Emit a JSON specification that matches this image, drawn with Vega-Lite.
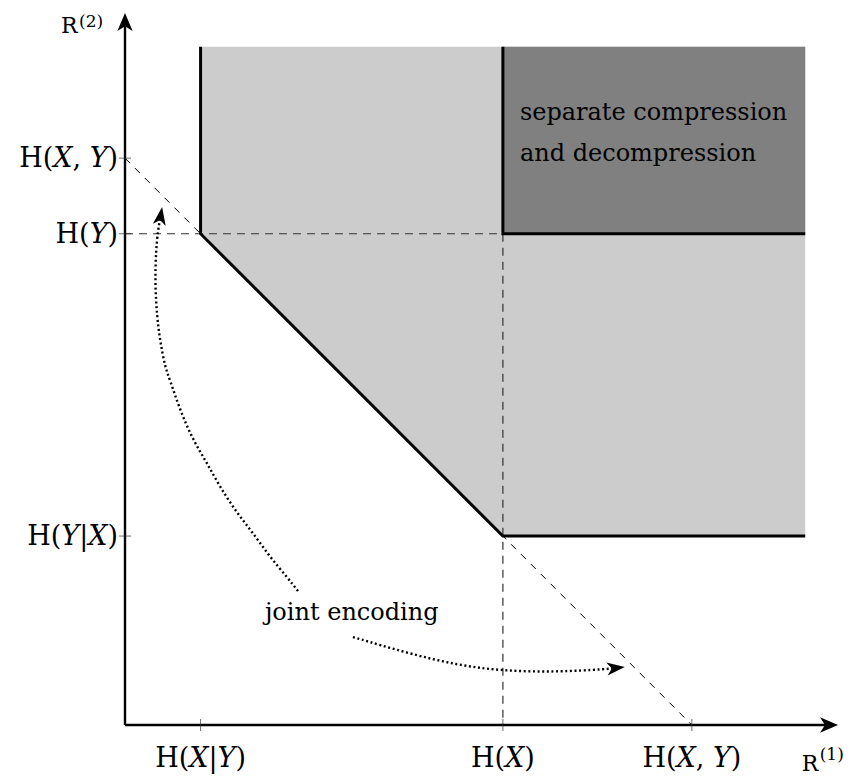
{
  "$schema": "https://vega.github.io/schema/vega-lite/v6.json",
  "width": 718,
  "height": 718,
  "autosize": {"type": "none"},
  "padding": {"left": 125, "top": 7, "right": 8, "bottom": 52},
  "background": "white",
  "config": {"view": {"stroke": null}},
  "datasets": {
    "light": [
      {"x": 2, "lo": 13, "hi": 17.95},
      {"x": 10, "lo": 5, "hi": 17.95},
      {"x": 18, "lo": 5, "hi": 17.95}
    ],
    "dark": [{"x": 10, "x2": 18, "y": 13, "y2": 17.95}],
    "dashed": [
      {"x": 0, "y": 13, "x2": 10, "y2": 13, "kind": "h"},
      {"x": 10, "y": 13, "x2": 10, "y2": 0, "kind": "v"},
      {"x": 0, "y": 15, "x2": 15, "y2": 0, "kind": "d"}
    ],
    "bounds": [
      {"path": "a", "o": 1, "x": 2, "y": 17.95},
      {"path": "a", "o": 2, "x": 2, "y": 13},
      {"path": "a", "o": 3, "x": 10, "y": 5},
      {"path": "a", "o": 4, "x": 18, "y": 5},
      {"path": "b", "o": 1, "x": 10, "y": 17.95},
      {"path": "b", "o": 2, "x": 10, "y": 13},
      {"path": "b", "o": 3, "x": 18, "y": 13}
    ],
    "axes": [
      {"x": 0, "y": 0, "x2": 18.7, "y2": 0},
      {"x": 0, "y": 0, "x2": 0, "y2": 18.7}
    ],
    "xticks": [
      {"x": 2, "y": 0, "label": "H(𝑋|𝑌)"},
      {"x": 10, "y": 0, "label": "H(𝑋)"},
      {"x": 15, "y": 0, "label": "H(𝑋, 𝑌)"}
    ],
    "yticks": [
      {"x": 0, "y": 5, "label": "H(𝑌|𝑋)"},
      {"x": 0, "y": 13, "label": "H(𝑌)"},
      {"x": 0, "y": 15, "label": "H(𝑋, 𝑌)"}
    ],
    "curves": [
      {"c": "1", "o": 1, "x": 4.578, "y": 3.546},
      {"c": "1", "o": 2, "x": 4.287, "y": 3.916},
      {"c": "1", "o": 3, "x": 3.837, "y": 4.446},
      {"c": "1", "o": 4, "x": 3.387, "y": 5.081},
      {"c": "1", "o": 5, "x": 2.964, "y": 5.61},
      {"c": "1", "o": 6, "x": 2.514, "y": 6.298},
      {"c": "1", "o": 7, "x": 2.17, "y": 6.933},
      {"c": "1", "o": 8, "x": 1.799, "y": 7.542},
      {"c": "1", "o": 9, "x": 1.455, "y": 8.336},
      {"c": "1", "o": 10, "x": 1.191, "y": 9.129},
      {"c": "1", "o": 11, "x": 1.058, "y": 9.473},
      {"c": "1", "o": 12, "x": 0.926, "y": 10.188},
      {"c": "1", "o": 13, "x": 0.847, "y": 10.797},
      {"c": "1", "o": 14, "x": 0.794, "y": 11.696},
      {"c": "1", "o": 15, "x": 0.82, "y": 12.569},
      {"c": "1", "o": 16, "x": 0.873, "y": 13.099},
      {"c": "1", "o": 17, "x": 0.926, "y": 13.364},
      {"c": "1", "o": 18, "x": 0.966, "y": 13.575},
      {"c": "2", "o": 1, "x": 6.032, "y": 2.328},
      {"c": "2", "o": 2, "x": 7.46, "y": 1.905},
      {"c": "2", "o": 3, "x": 8.783, "y": 1.587},
      {"c": "2", "o": 4, "x": 10.0, "y": 1.429},
      {"c": "2", "o": 5, "x": 11.429, "y": 1.402},
      {"c": "2", "o": 6, "x": 12.751, "y": 1.481},
      {"c": "2", "o": 7, "x": 13.1, "y": 1.51}
    ],
    "heads": [
      {"h": "c1", "x": 0.945, "y": 13.47},
      {"h": "c2", "x": 12.99, "y": 1.508},
      {"h": "ax", "x": 18.63, "y": 0},
      {"h": "ay", "x": 0, "y": 18.6}
    ],
    "notes": [
      {"n": "sep", "x": 10.45, "y": 16.0, "text": "separate compression\nand decompression"},
      {"n": "joint", "x": 6.0, "y": 2.78, "text": "joint encoding"},
      {"n": "r2", "x": 0, "y": 18.78, "main": "R", "sup": "(2)"},
      {"n": "r1", "x": 18.78, "y": 0, "main": "R", "sup": "(1)"}
    ]
  },
  "encoding": {
    "x": {"field": "x", "type": "quantitative", "scale": {"domain": [0, 19], "nice": false, "zero": false}, "axis": null},
    "y": {"field": "y", "type": "quantitative", "scale": {"domain": [0, 19], "nice": false, "zero": false}, "axis": null}
  },
  "layer": [
    {
      "data": {"name": "light"},
      "mark": {"type": "area", "color": "#cccccc", "opacity": 1},
      "encoding": {
        "y": {"field": "lo", "type": "quantitative"},
        "y2": {"field": "hi"}
      }
    },
    {
      "data": {"name": "dark"},
      "mark": {"type": "rect", "color": "#808080"},
      "encoding": {
        "x2": {"field": "x2"},
        "y2": {"field": "y2"}
      }
    },
    {
      "data": {"name": "dashed"},
      "transform": [{"filter": "datum.kind != 'd'"}],
      "mark": {"type": "rule", "color": "#333333", "strokeWidth": 1.2, "strokeDash": [8, 6]},
      "encoding": {"x2": {"field": "x2"}, "y2": {"field": "y2"}}
    },
    {
      "data": {"name": "dashed"},
      "transform": [{"filter": "datum.kind == 'd'"}],
      "mark": {"type": "rule", "color": "#000000", "strokeWidth": 1, "strokeDash": [7, 7]},
      "encoding": {"x2": {"field": "x2"}, "y2": {"field": "y2"}}
    },
    {
      "data": {"name": "bounds"},
      "mark": {"type": "line", "color": "black", "strokeWidth": 3, "strokeJoin": "miter"},
      "encoding": {
        "detail": {"field": "path"},
        "order": {"field": "o", "type": "quantitative"}
      }
    },
    {
      "data": {"name": "axes"},
      "mark": {"type": "rule", "color": "black", "strokeWidth": 2.4},
      "encoding": {"x2": {"field": "x2"}, "y2": {"field": "y2"}}
    },
    {
      "data": {"name": "xticks"},
      "mark": {"type": "tick", "orient": "vertical", "size": 12, "thickness": 1, "color": "#333333"}
    },
    {
      "data": {"name": "yticks"},
      "mark": {"type": "tick", "orient": "horizontal", "size": 12, "thickness": 1, "color": "#333333"}
    },
    {
      "data": {"name": "xticks"},
      "mark": {"type": "text", "font": "DejaVu Serif", "fontSize": 27, "align": "center", "baseline": "middle", "dy": 34, "color": "black"},
      "encoding": {"text": {"field": "label"}}
    },
    {
      "data": {"name": "yticks"},
      "mark": {"type": "text", "font": "DejaVu Serif", "fontSize": 27, "align": "right", "baseline": "middle", "dx": -7, "dy": 1, "color": "black"},
      "encoding": {"text": {"field": "label"}}
    },
    {
      "data": {"name": "curves"},
      "mark": {"type": "line", "color": "black", "strokeWidth": 2.4, "strokeDash": [2, 2.6], "interpolate": "basis"},
      "encoding": {
        "detail": {"field": "c"},
        "order": {"field": "o", "type": "quantitative"}
      }
    },
    {
      "data": {"name": "heads"},
      "transform": [{"filter": "datum.h == 'c1'"}],
      "mark": {"type": "point", "filled": true, "color": "black", "opacity": 1, "size": 324, "angle": 9, "shape": "M0,-1 L0.72,1 L0,0.45 L-0.72,1 Z"}
    },
    {
      "data": {"name": "heads"},
      "transform": [{"filter": "datum.h == 'c2'"}],
      "mark": {"type": "point", "filled": true, "color": "black", "opacity": 1, "size": 324, "angle": 84, "shape": "M0,-1 L0.72,1 L0,0.45 L-0.72,1 Z"}
    },
    {
      "data": {"name": "heads"},
      "transform": [{"filter": "datum.h == 'ax'"}],
      "mark": {"type": "point", "filled": true, "color": "black", "opacity": 1, "size": 324, "angle": 90, "shape": "M0,-1 L0.85,1 L0,0.45 L-0.85,1 Z"}
    },
    {
      "data": {"name": "heads"},
      "transform": [{"filter": "datum.h == 'ay'"}],
      "mark": {"type": "point", "filled": true, "color": "black", "opacity": 1, "size": 324, "angle": 0, "shape": "M0,-1 L0.85,1 L0,0.45 L-0.85,1 Z"}
    },
    {
      "data": {"name": "notes"},
      "transform": [{"filter": "datum.n == 'sep'"}],
      "mark": {"type": "text", "font": "DejaVu Serif", "fontSize": 24, "align": "left", "baseline": "alphabetic", "lineBreak": "\n", "lineHeight": 41, "color": "black"},
      "encoding": {"text": {"field": "text"}}
    },
    {
      "data": {"name": "notes"},
      "transform": [{"filter": "datum.n == 'joint'"}],
      "mark": {"type": "text", "font": "DejaVu Serif", "fontSize": 24, "align": "center", "baseline": "alphabetic", "color": "black"},
      "encoding": {"text": {"field": "text"}}
    },
    {
      "data": {"name": "notes"},
      "transform": [{"filter": "datum.n == 'r2'"}],
      "mark": {"type": "text", "font": "DejaVu Serif", "fontSize": 22, "align": "left", "baseline": "alphabetic", "dx": -64, "dy": 18, "color": "black"},
      "encoding": {"text": {"field": "main"}}
    },
    {
      "data": {"name": "notes"},
      "transform": [{"filter": "datum.n == 'r2'"}],
      "mark": {"type": "text", "font": "DejaVu Serif", "fontSize": 17, "align": "left", "baseline": "alphabetic", "dx": -46, "dy": 12, "color": "black"},
      "encoding": {"text": {"field": "sup"}}
    },
    {
      "data": {"name": "notes"},
      "transform": [{"filter": "datum.n == 'r1'"}],
      "mark": {"type": "text", "font": "DejaVu Serif", "fontSize": 22, "align": "left", "baseline": "alphabetic", "dx": -33, "dy": 46, "color": "black"},
      "encoding": {"text": {"field": "main"}}
    },
    {
      "data": {"name": "notes"},
      "transform": [{"filter": "datum.n == 'r1'"}],
      "mark": {"type": "text", "font": "DejaVu Serif", "fontSize": 17, "align": "left", "baseline": "alphabetic", "dx": -15, "dy": 35, "color": "black"},
      "encoding": {"text": {"field": "sup"}}
    }
  ]
}
